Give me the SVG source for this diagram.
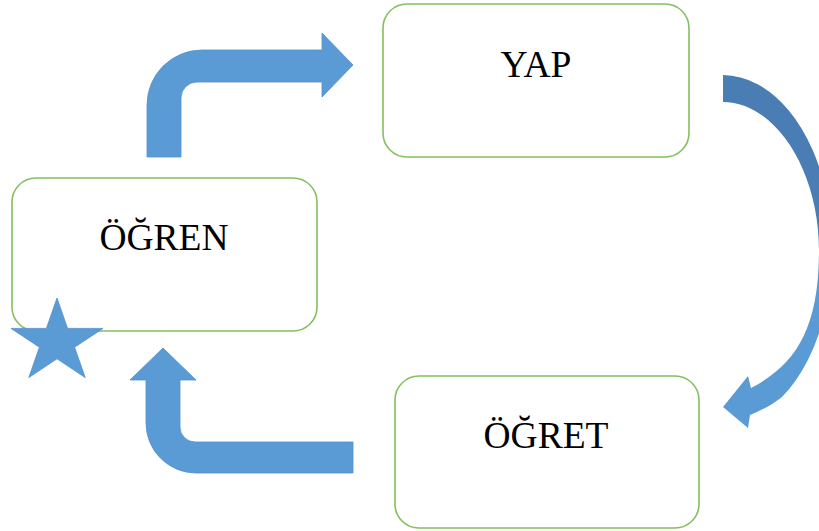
<svg xmlns="http://www.w3.org/2000/svg" width="819" height="531" viewBox="0 0 819 531">
  <style>
    .box { fill: #ffffff; stroke: #84BF60; stroke-width: 1.6; }
    .lbl { font-family: "Liberation Serif", "Times New Roman", serif; font-size: 37.5px; fill: #000000; text-anchor: middle; }
    .arrow { fill: #5B9BD5; stroke: #5290CA; stroke-width: 0.8; stroke-linejoin: miter; }
  </style>
  <defs>
    <linearGradient id="curveShade" gradientUnits="userSpaceOnUse" x1="0" y1="225" x2="0" y2="285">
      <stop offset="0" stop-color="#4A7DB3"/>
      <stop offset="1" stop-color="#5B9BD5"/>
    </linearGradient>
  </defs>

  <g id="node-yap">
    <rect class="box" x="383" y="4" width="306" height="153" rx="24" ry="24"/>
    <text class="lbl" x="536" y="77">YAP</text>
  </g>

  <g id="node-ogren">
    <rect class="box" x="12" y="178" width="305" height="153" rx="24" ry="24"/>
    <text class="lbl" x="164" y="250">ÖĞREN</text>
  </g>

  <g id="node-ogret">
    <rect class="box" x="395" y="376" width="304" height="152" rx="24" ry="24"/>
    <text class="lbl" x="546" y="448">ÖĞRET</text>
  </g>

  <g id="connectors">
    <path class="arrow" d="M147,157 L147,105 A55,55 0 0 1 202,50 L322,50 L322,33 L353,65 L322,97 L322,82 L197,82 A16,16 0 0 0 181,98 L181,157 Z"/>
    <path d="M723,75 A110,175 0 0 1 782,397 C772,405 760,411 750,415 L748,428 L723,407 L748,376 L751,388 C795,365 819,330 819,250 C819,170 775,102 723,102 Z" fill="url(#curveShade)" stroke="none"/>
    <path class="arrow" d="M353,442 L195,442 A15,15 0 0 1 180,427 L180,380 L196,380 L163,348 L130,380 L146,380 L146,423 A50,50 0 0 0 196,473 L353,473 Z"/>
  </g>

  <g id="star">
    <polygon class="arrow" points="57,298 67.6,328.4 103,328.4 74.6,347.2 85.2,377.6 57,358.8 28.8,377.6 39.4,347.2 11,328.4 46.4,328.4"/>
  </g>
</svg>
